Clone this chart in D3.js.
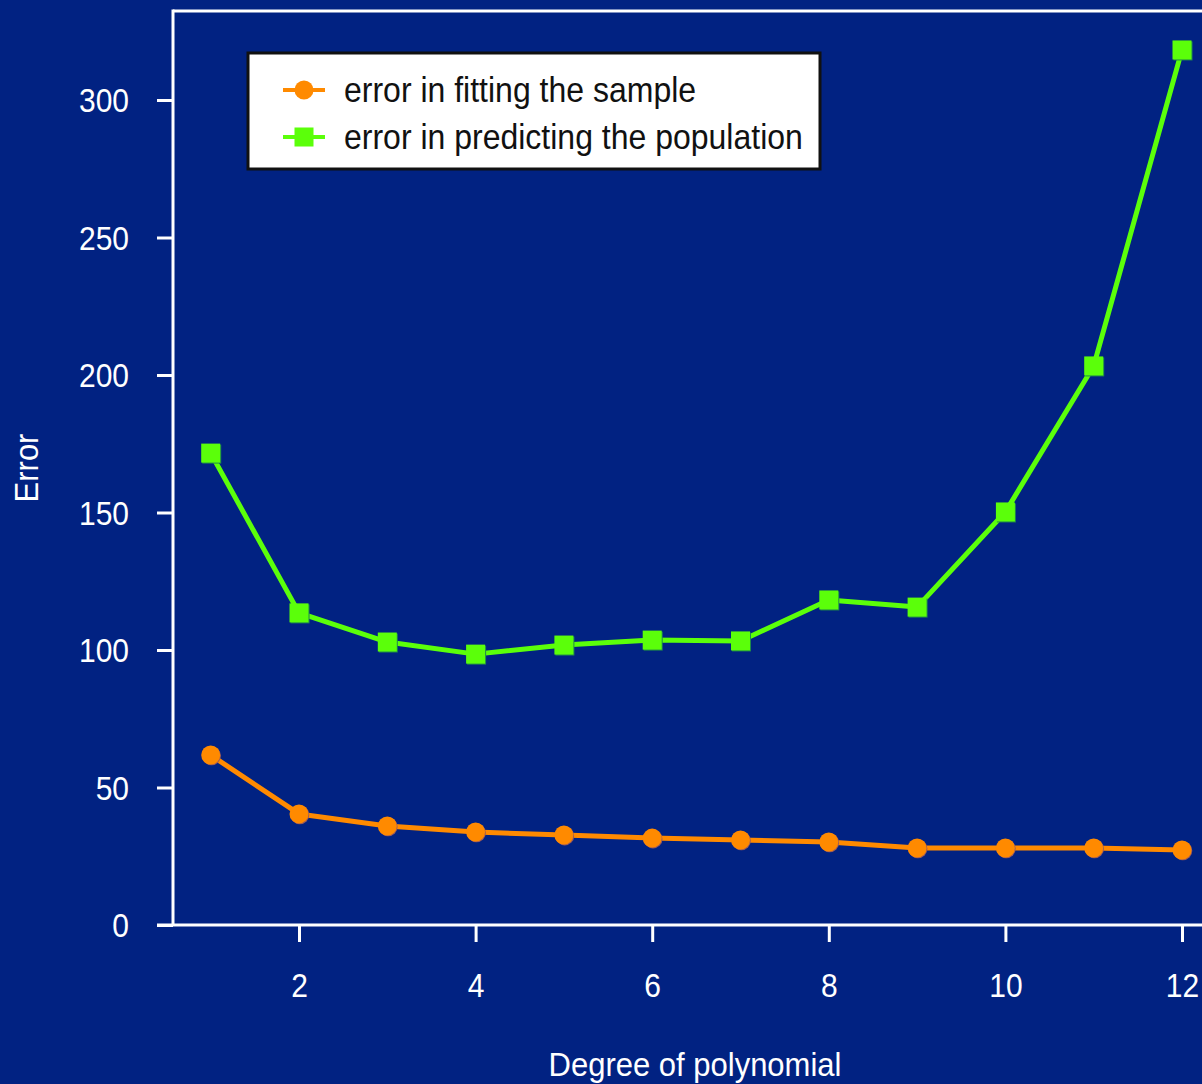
<!DOCTYPE html>
<html>
<head>
<meta charset="utf-8">
<script src="https://cdn.jsdelivr.net/npm/d3@7"></script>
<style>
  html, body { margin: 0; padding: 0; background: #012282; }
  svg { display: block; }
  text { font-family: "Liberation Sans", Arial, Helvetica, sans-serif; }
</style>
</head>
<body>
<svg id="chart" width="1202" height="1084"></svg>
<script>
// ---- data ----
const degrees = [1, 2, 3, 4, 5, 6, 7, 8, 9, 10, 11, 12];
const sampleError = [61.8, 40.4, 36.0, 33.8, 32.7, 31.6, 30.9, 30.2, 28.0, 28.0, 28.0, 27.3];
const populationError = [171.6, 113.5, 102.9, 98.5, 101.8, 103.6, 103.3, 118.2, 115.6, 150.2, 203.3, 318.2];
const xTicks = [2, 4, 6, 8, 10, 12];
const yTicks = [0, 50, 100, 150, 200, 250, 300];
const seriesNames = ["error in fitting the sample", "error in predicting the population"];
const xTitle = "Degree of polynomial";
const yTitle = "Error";

// ---- styles ----
const BG = "#012282";
const ORANGE = "#ff8a00";
const GREEN = "#5bff0a";
const AXIS = "#ffffff";
const STRETCH = 1.08;

const W = 1202, H = 1084;
const svg = d3.select("#chart");
svg.append("rect").attr("width", W).attr("height", H).attr("fill", BG);

const x = d3.scaleLinear().domain([2, 12]).range([299, 1182]);
const y = d3.scaleLinear().domain([0, 300]).range([925, 100]);

const axisX0 = 173, plotTop = 11;

function stretch(sel) {
  sel.each(function () {
    const t = d3.select(this);
    const tx = +t.attr("x") || 0, ty = +t.attr("y") || 0;
    t.attr("x", 0).attr("y", 0).attr("transform", `translate(${tx},${ty}) scale(1,${STRETCH})`);
  });
}

// frame lines
svg.append("line").attr("x1", axisX0).attr("x2", W).attr("y1", plotTop).attr("y2", plotTop)
  .attr("stroke", AXIS).attr("stroke-width", 3);
svg.append("line").attr("x1", axisX0).attr("x2", axisX0).attr("y1", plotTop - 1.5).attr("y2", y(0))
  .attr("stroke", AXIS).attr("stroke-width", 3);
svg.append("line").attr("x1", 157).attr("x2", W).attr("y1", y(0)).attr("y2", y(0))
  .attr("stroke", AXIS).attr("stroke-width", 3);

// y axis
const yAxis = svg.append("g").attr("transform", `translate(${axisX0},0)`)
  .call(d3.axisLeft(y).tickValues(yTicks).tickSize(16).tickPadding(28).tickFormat(d3.format("d")));
yAxis.select(".domain").remove();
yAxis.selectAll(".tick line").attr("stroke", AXIS).attr("stroke-width", 3);
yAxis.selectAll(".tick text").attr("fill", AXIS).attr("font-size", 30)
  .attr("font-family", "'Liberation Sans', Arial, sans-serif").attr("dy", "0.36em").call(stretch);

// x axis
const xAxis = svg.append("g").attr("transform", `translate(0,${y(0)})`)
  .call(d3.axisBottom(x).tickValues(xTicks).tickSize(17).tickPadding(34).tickFormat(d3.format("d")));
xAxis.select(".domain").remove();
xAxis.selectAll(".tick line").attr("stroke", AXIS).attr("stroke-width", 3);
xAxis.selectAll(".tick text").attr("fill", AXIS).attr("font-size", 30)
  .attr("font-family", "'Liberation Sans', Arial, sans-serif").attr("dy", "0.66em").call(stretch);

// axis titles
svg.append("text").attr("transform", `translate(695,1076) scale(1,${STRETCH})`).attr("text-anchor", "middle")
  .attr("fill", AXIS).attr("font-size", 31).text(xTitle);
svg.append("text").attr("transform", `translate(38,468) rotate(-90) scale(1,${STRETCH})`).attr("text-anchor", "middle")
  .attr("fill", AXIS).attr("font-size", 31).text(yTitle);

// lines
const line = d3.line().x((d, i) => x(degrees[i])).y(d => y(d));
svg.append("path").datum(populationError).attr("d", line).attr("fill", "none")
  .attr("stroke", GREEN).attr("stroke-width", 5).attr("stroke-linejoin", "round");
svg.append("path").datum(sampleError).attr("d", line).attr("fill", "none")
  .attr("stroke", ORANGE).attr("stroke-width", 5).attr("stroke-linejoin", "round");

// markers (with faint shadow edge)
const sq = 19;
const gSq = svg.append("g");
gSq.selectAll("rect.sh").data(populationError).join("rect").attr("class", "sh")
  .attr("x", (d, i) => x(degrees[i]) - sq / 2 + 1).attr("y", d => y(d) - sq / 2 + 1)
  .attr("width", sq).attr("height", sq).attr("fill", "#1f8a4a");
gSq.selectAll("rect.mk").data(populationError).join("rect").attr("class", "mk")
  .attr("x", (d, i) => x(degrees[i]) - sq / 2).attr("y", d => y(d) - sq / 2)
  .attr("width", sq).attr("height", sq).attr("fill", GREEN);
const gC = svg.append("g");
gC.selectAll("circle.sh").data(sampleError).join("circle").attr("class", "sh")
  .attr("cx", (d, i) => x(degrees[i]) + 0.8).attr("cy", d => y(d) + 0.8).attr("r", 9.5).attr("fill", "#9a5a5a");
gC.selectAll("circle.mk").data(sampleError).join("circle").attr("class", "mk")
  .attr("cx", (d, i) => x(degrees[i])).attr("cy", d => y(d)).attr("r", 9.5).attr("fill", ORANGE);

// legend
const lg = svg.append("g");
lg.append("rect").attr("x", 248).attr("y", 53).attr("width", 572).attr("height", 116)
  .attr("fill", "#ffffff").attr("stroke", "#111111").attr("stroke-width", 3);
const rows = [
  { name: seriesNames[0], color: ORANGE, shape: "circle", cy: 90 },
  { name: seriesNames[1], color: GREEN, shape: "square", cy: 137 }
];
rows.forEach(r => {
  lg.append("line").attr("x1", 283).attr("x2", 325).attr("y1", r.cy).attr("y2", r.cy)
    .attr("stroke", r.color).attr("stroke-width", 4);
  if (r.shape === "circle") {
    lg.append("circle").attr("cx", 304).attr("cy", r.cy).attr("r", 9.5).attr("fill", r.color);
  } else {
    lg.append("rect").attr("x", 304 - sq / 2).attr("y", r.cy - sq / 2).attr("width", sq).attr("height", sq).attr("fill", r.color);
  }
  lg.append("text").attr("transform", `translate(344,${r.cy}) scale(1,${STRETCH})`).attr("dy", "0.35em")
    .attr("fill", "#111111").attr("font-size", 32).text(r.name);
});
</script>
</body>
</html>
